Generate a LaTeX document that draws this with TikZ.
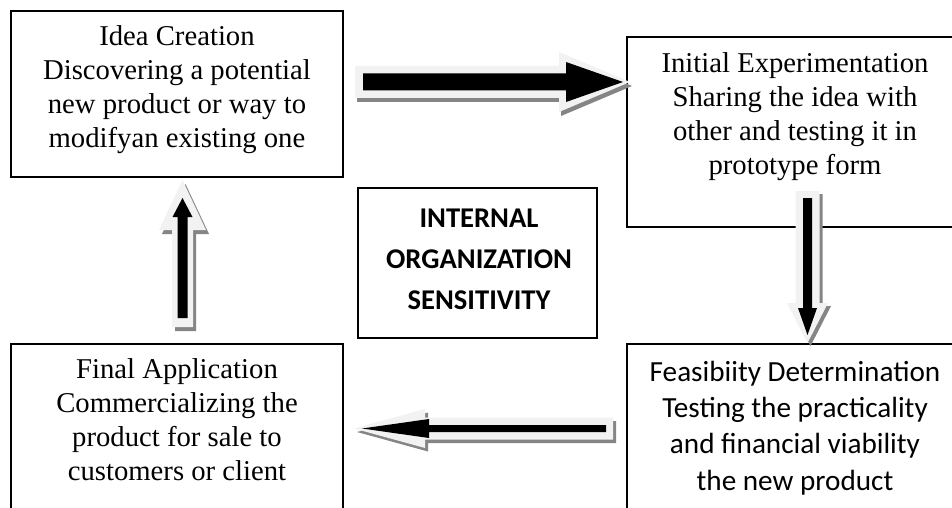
\documentclass[tikz,border=0pt]{standalone}
\usepackage{fontspec}
\setmainfont{Liberation Serif}
\newfontfamily\calib{Carlito}
\definecolor{arrlight}{HTML}{F2F2F2}
\definecolor{arrshadow}{HTML}{858585}
% block arrow polygon along local +x: fill, tail, shaft half, head back, head half, tip
\newcommand\arrpoly[6]{\fill[#1] (#2,-#3) -- (#4,-#3) -- (#4,-#5) -- (#6,0) -- (#4,#5) -- (#4,#3) -- (#2,#3) -- cycle;}
\begin{document}
\begin{tikzpicture}[x=1pt,y=-1pt,
  box/.style={draw=black,line width=1.6pt,fill=white,inner sep=0pt},
  seriftxt/.style={font=\fontsize{28.7}{34}\selectfont,align=center,inner sep=0pt},
  sanstxt/.style={font=\calib\fontsize{29.2}{36.3}\selectfont,align=center,inner sep=0pt},
  boldtxt/.style={font=\calib\bfseries\fontsize{28.6}{41}\selectfont,align=center,inner sep=0pt}]
\useasboundingbox (0,0) rectangle (952,508);
\clip (0,0) rectangle (952,508);
\fill[white] (0,0) rectangle (952,508);

% boxes
\node[box,minimum width=332pt,minimum height=166pt] (A) at (177,94) {};
\node[box,minimum width=336pt,minimum height=190pt] (B) at (795,132) {};
\node[box,minimum width=239pt,minimum height=150pt] (C) at (477.5,263) {};
\node[box,minimum width=336pt,minimum height=186pt] (D) at (795,437) {};
\node[box,minimum width=332pt,minimum height=186pt] (E) at (177,437) {};

% texts
\node[seriftxt] (At) at (177,90) {Idea Creation\\Discovering a potential\\new product or way to\\modifyan existing one};
\node[seriftxt] (Bt) at (795,117) {Initial Experimentation\\Sharing the idea with\\other and testing it in\\prototype form};
\node[boldtxt] (Ct) at (479,259) {INTERNAL\\ORGANIZATION\\SENSITIVITY};
\node[sanstxt] (Dt) at (795,428) {Feasibiity Determination\\Testing the practicality\\and financial viability\\the new product};
\node[seriftxt] (Et) at (177,420) {Final Application\\Commercializing the\\product for sale to\\customers or client};

% arrow A -> B (right)
\begin{scope}[shift={(355,82)}]
  \begin{scope}[shift={(2,4)}]\arrpoly{arrshadow}{0}{16}{204}{30}{275}\end{scope}
  \arrpoly{arrlight}{0}{16}{204}{30}{275}
  \arrpoly{black}{8}{8.5}{211}{20}{268}
\end{scope}

% arrow B -> D (down)
\begin{scope}[shift={(807.5,191)}]
  \begin{scope}[shift={(3,3)},rotate=-90]\arrpoly{arrshadow}{0}{12}{112}{20.5}{152}\end{scope}
  \begin{scope}[rotate=-90]
    \arrpoly{arrlight}{0}{12}{112}{20.5}{152}
    \arrpoly{black}{7}{4.5}{117}{9.5}{144}
  \end{scope}
\end{scope}

% arrow D -> E (left)
\begin{scope}[shift={(613,428.5)}]
  \begin{scope}[shift={(3,3.5)},rotate=180]\arrpoly{arrshadow}{0}{11}{188}{19.5}{259}\end{scope}
  \begin{scope}[rotate=180]
    \arrpoly{arrlight}{0}{11}{188}{19.5}{259}
    \arrpoly{black}{7}{3.5}{184}{9.5}{251}
  \end{scope}
\end{scope}

% arrow E -> A (up)
\begin{scope}[shift={(182.5,327)}]
  \begin{scope}[shift={(3,4)},rotate=90]\arrpoly{arrshadow}{0}{10.5}{97}{23.5}{147}\end{scope}
  \begin{scope}[rotate=90]
    \arrpoly{arrlight}{0}{10.5}{97}{23.5}{147}
    \arrpoly{black}{9}{5}{110}{10}{129}
  \end{scope}
\end{scope}
\end{tikzpicture}
\end{document}
